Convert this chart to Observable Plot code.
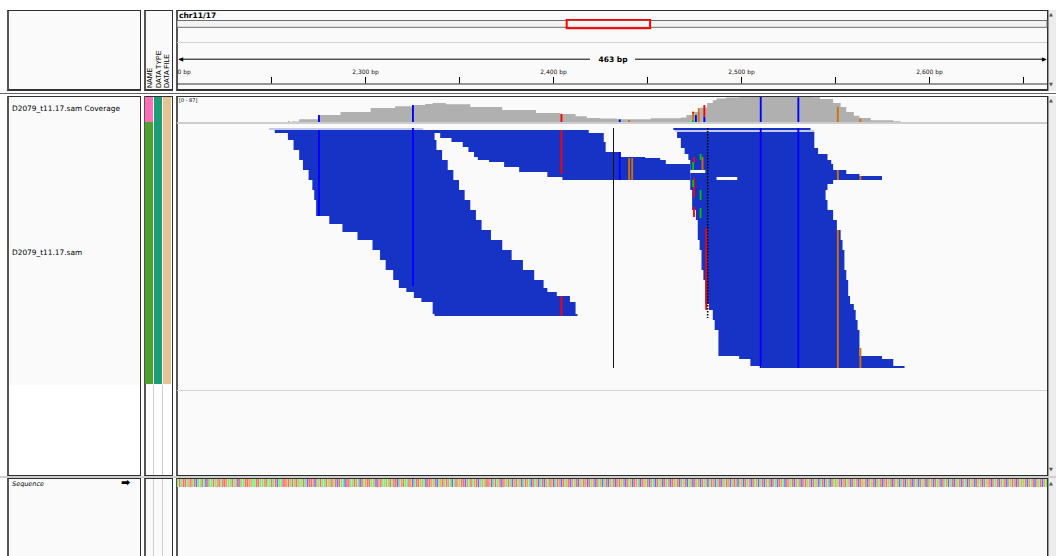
<!DOCTYPE html>
<html><head><meta charset="utf-8">
<script src="https://cdn.jsdelivr.net/npm/d3@7"></script>
<script src="https://cdn.jsdelivr.net/npm/@observablehq/plot@0.6"></script>
<style>
html,body{margin:0;padding:0;background:#fff;}
#root{position:relative;width:1056px;height:556px;overflow:hidden;background:#fff;font-family:"DejaVu Sans",Arial,sans-serif;color:#000;}
.box{position:absolute;box-sizing:border-box;}
.lbl{position:absolute;white-space:nowrap;line-height:1;}
</style></head><body><div id="root"></div>
<script>
// ---------------- data ----------------
const chromName = "chr11/17";
const chromLength = 4800;
const chromViewBox = [2150, 2610];
const viewStart = 2200;
const viewSpanLabel = "463 bp";
const rulerLabelTicks = [2200, 2300, 2400, 2500, 2600];
const rulerMinorTicks = [2250, 2300, 2350, 2400, 2450, 2500, 2550, 2600, 2650];
const trackNames = ["D2079_t11.17.sam Coverage", "D2079_t11.17.sam"];
const attrNames = ["NAME", "DATA TYPE", "DATA FILE"];
const coverageAttrColors = ["#ff6db6", "#1b9e77", "#e5c494"];
const readsAttrColors = ["#4ba22f", "#1b9e77", "#e5c494"];
const coverageRangeLabel = "[0 - 87]";
const coverageMax = 87;
const coveragePos = [2259,2261,2265,2275,2287,2303,2316,2325,2332,2336,2343,2356,2373,2391,2404,2412,2418,2425,2434,2452,2468,2471,2474,2478,2482,2485,2487,2492,2499,2538,2542,2549,2553,2556,2560,2563,2569,2581,2585];
const coverageVal = [0,2,10,24,35,49,55,59,63,66,62,52,42,31,28,20,14,12,10,13,16,24,35,50,66,76,82,85,87,86,80,66,52,35,22,14,6,3,0];
// [position, from, to, base]
const coverageAlleles = [
  [2259,0,2,"G"],[2275,0,24,"C"],[2325,0,59,"C"],[2404,0,28,"T"],[2435,0,9,"C"],[2440,0,7,"G"],
  [2474,0,9,"A"],[2474,9,30,"G"],[2474,30,36,"T"],[2475.5,0,24,"C"],[2477,0,48,"G"],
  [2480,0,18,"C"],[2480,18,59,"T"],[2510,0,87,"C"],[2530,0,86,"C"],[2551,0,53,"G"],[2563,0,12,"G"]
];
// reads as [rowFrom, rowTo, startBp, endBp]
const readsPale = [[0,1,2249,2331],[1,2,2465,2539]];
const readsTop = [[1,2.5,2252,2419],[0,1,2464,2537]];
const readsLeft = [
  [2.5,6,2259,2337],[6,11,2262,2338],[11,16,2265,2341],[16,21,2267,2344],[21,26,2270,2347],
  [26,31,2272,2350],[31,36,2273,2353],[36,41,2274,2356],[41,44,2274,2359],[44,46,2281,2359],
  [46,48,2281,2362],[48,51,2288,2362],[51,52,2288,2367],[52,56,2296,2367],[56,61,2304,2373],
  [61,66,2308,2378],[66,71,2311,2384],[71,76,2315,2390],[76,80,2318,2395],[80,82,2322,2397],
  [82,84,2326,2402],[84,85,2326,2409],[85,87,2330,2409],[87,93,2336,2412],[93,94,2337,2413]
];
const readsMiddle = [
  [2.5,5,2340,2427],[5,7,2346,2427],[7,9.5,2352,2428],[9.5,12,2355,2428],[12,14.5,2358,2436],
  [14.5,15,2360,2449],[15,16,2360,2457],[16,17,2366,2460],[17,18,2374,2460],[18,19.5,2374,2473],
  [19.5,22,2382,2473],[22,24.5,2397,2473],[24.5,26,2405,2473]
];
const readsRight = [
  [2,5,2466,2539],[5,10,2468,2539],[10,13,2470,2541],[13,16,2472,2546],[16,18,2473,2548],
  [18,21,2473,2549],[21,23,2473,2556],[23,24,2473,2563],[24,26,2473,2575],[26,28,2473,2549],
  [28,31,2473,2546],[31,36,2474,2545],[36,41,2474,2546],[41,46,2476,2549],[46,51,2477,2551],
  [51,56,2477,2553],[56,61,2478,2554],[61,66,2479,2555],[66,71,2479,2555],[71,76,2480,2556],
  [76,84,2481,2557],[84,88,2481,2558],[88,91,2483,2560],[91,96,2485,2561],[96,101,2486,2562],
  [101,114,2488,2563],[114,115.5,2499,2575],[115.5,119,2505,2581],[119,120,2511,2587]
];
const readGaps = [[21,22.5,2473,2481],[24.5,26,2487,2498]];
// mismatches [position, rowFrom, rowTo, base]
const mismatches = [
  [2275,1,44,"C"],[2325,0,79,"C"],[2404,1,23,"T"],[2404,84,94,"T"],[2435,12,26,"C"],
  [2440,15,26,"G"],[2441.6,15,26,"G"],[2510,0,120,"C"],[2530,0,120,"C"],
  [2551,21,26,"G"],[2551,51,120,"G"],[2563,24,26,"G"],[2563,110,120,"G"],
  [2474.5,14.5,17.5,"T"],[2474,17,21,"A"],[2479,14.5,21,"G"],[2478,13,16,"A"],
  [2474.5,25,34.5,"T"],[2474,26,29.5,"A"],[2474.5,39.5,44.5,"T"],[2478,31,36,"A"],
  [2478,40,45,"A"],[2481,50,91,"T"]
];
const insertionColumn = [[2482,0,95]];
const sequence =
  "ATATTAGTATCAATACTAATAGTATTGAATAGCTAATTGGAATTAAGTAA" +
  "TATCAATTGTATATGAATACTTGCGATAATAGTATCTAACTTAATGACTA" +
  "GTTAATCGTAAGATATTCAGTAATGCATTAGACTTGATCAGTATGACATG" +
  "ATTCGATAGTCAGATTGCATAGCTGATACGTAGCATGACTAGCATCGATG" +
  "CATGCTAGTCGATCGATGCTAGCTAGCATCGATCGTAGCTAGCTGACTGA" +
  "TCGACTAGCTAGCTGATCGATCAGCTAGCTAGCATGCATCGATGCATGCA" +
  "GCTAGCTAGCATCGATCGACTGACTGATCGATCGTAGCTAGCATCGACTA" +
  "GATCGTAGCTAGCTGATCGATCGATCGTAGCTAGCATCGATCGACTAGCT" +
  "AGCTAGCTAGCATCGATCGACTAGCTAGCTAGTCGATCGATCGATGCTAG" +
  "ATCGATCGATCGA";

// ---------------- styles / layout ----------------
const baseColor = {A: "#00c000", C: "#0000ff", G: "#d17105", T: "#ff0000"};
const seqColor = {A: "#74f274", C: "#6a6aff", G: "#eda15c", T: "#ff6a6a"};
const readFill = "#1633c5", paleFill = "#c3c9ee", panelBg = "#fafafa";
const DATA_LEFT = 177, DATA_W = 871, PX_PER_BP = 1.88;
const viewEnd = viewStart + DATA_W / PX_PER_BP;
const mid = (viewStart + viewEnd) / 2;
const trackExtents = [[0, 25], [25, 287]];

const root = document.getElementById("root");
function box(l, t, w, h, css) {
  const d = document.createElement("div"); d.className = "box";
  Object.assign(d.style, {left: l + "px", top: t + "px", width: w + "px", height: h + "px"}, css || {});
  root.appendChild(d); return d;
}
function label(l, t, txt, css) {
  const d = document.createElement("div"); d.className = "lbl"; d.textContent = txt;
  Object.assign(d.style, {left: l + "px", top: t + "px"}, css || {});
  root.appendChild(d); return d;
}
function place(svg, l, t) {
  svg.style.position = "absolute"; svg.style.left = l + "px"; svg.style.top = t + "px";
  svg.style.background = "transparent"; svg.style.overflow = "hidden";
  root.appendChild(svg);
}
const border = "1px solid #2e2e2e";
const panel = (l, t, w, h, extra) => box(l, t, w, h, Object.assign({background: panelBg, border: border, borderLeft: "2px solid #555"}, extra || {}));

// header row
panel(7, 10, 134, 81, {borderBottom: "2px solid #333"});
panel(144, 10, 29, 81, {borderBottom: "2px solid #333"});
panel(176, 10, 872, 81, {borderBottom: "2px solid #333"});
box(0, 93, 1056, 1, {background: "#666"});
// tracks row
panel(7, 96, 134, 380);
panel(144, 96, 29, 380);
panel(176, 96, 872, 380);
box(9, 385, 131, 90, {background: "#fff"});
box(146, 385, 26, 90, {background: "#fff"});
box(153, 385, 1, 90, {background: "#cfcfcf"});
box(162, 385, 1, 90, {background: "#cfcfcf"});
// splitter + bottom row
box(0, 476, 1056, 2, {background: "#cfcfcf"});
panel(7, 478, 134, 90);
panel(144, 478, 29, 90);
panel(176, 478, 872, 90);
box(153, 479, 1, 77, {background: "#cfcfcf"});
box(162, 479, 1, 77, {background: "#cfcfcf"});
// scrollbars
for (const [t, h] of [[10, 81], [96, 380], [478, 90]]) box(1048, t, 8, h, {background: "#ececec", borderLeft: "1px solid #999"});
label(1049, 12, "▲", {fontSize: "5px", color: "#555"});
label(1049, 82, "▼", {fontSize: "5px", color: "#555"});
label(1049, 98, "▲", {fontSize: "5px", color: "#555"});
label(1049, 467, "▼", {fontSize: "5px", color: "#555"});
label(1049, 481, "▲", {fontSize: "5px", color: "#555"});
// header separator and texts
box(177, 42, 870, 1, {background: "#d2d2d2"});
label(179, 12, chromName, {fontSize: "7.5px", fontWeight: "bold"});
// attribute header labels (rotated)
attrNames.forEach((n, i) => {
  label(146 + i * 8.7, 56, n, {fontSize: "7px", fontFamily: "'Liberation Sans Narrow','Liberation Sans',sans-serif", writingMode: "vertical-rl", transform: "rotate(180deg)", height: "32px", lineHeight: "8px", width: "8px", textAlign: "left"});
});
// track names
label(12, 105, trackNames[0], {fontSize: "7.4px"});
label(12, 249, trackNames[1], {fontSize: "7.4px"});
label(12, 481, "Sequence", {fontSize: "6.5px", fontStyle: "italic"});
label(121, 477, "➡", {fontSize: "11px", fontWeight: "bold"});
label(179, 98, coverageRangeLabel, {fontSize: "5px"});
// track dividers
box(177, 122, 870, 2, {background: "#cdcdcd"});
box(177, 390, 870, 1, {background: "#d4d4d4"});

// ---------------- plots ----------------
const xView = {domain: [viewStart, viewEnd], range: [0, DATA_W], axis: null};

// ideogram
place(Plot.plot({
  width: DATA_W, height: 11, margin: 0,
  x: {domain: [0, chromLength], range: [0, DATA_W - 1], axis: null},
  y: {domain: [0, 11], range: [0, 11], axis: null},
  marks: [
    Plot.rect([[0, chromLength]], {x1: d => d[0], x2: d => d[1], y1: 1.5, y2: 8.3, fill: "#f4f4f4", stroke: "#6e6e6e", strokeWidth: 1}),
    Plot.rect([chromViewBox], {x1: d => d[0], x2: d => d[1], y1: 0.6, y2: 9.2, fill: "none", stroke: "#ff0000", strokeWidth: 2})
  ]
}), DATA_LEFT, 19);

// ruler
const fmtBp = d => d3.format(",")(d) + " bp";
const halfGap = 12;
place(Plot.plot({
  width: DATA_W, height: 38, margin: 0, x: xView,
  y: {domain: [0, 38], range: [0, 38], axis: null},
  style: {fontFamily: "DejaVu Sans"},
  marks: [
    Plot.ruleY([[viewStart + 1, mid - halfGap], [mid + halfGap, viewEnd - 2]], {x1: d => d[0], x2: d => d[1], y: 8.7, stroke: "#000", strokeWidth: 1}),
    Plot.text([viewStart], {x: d => d, y: 8.7, text: () => "◀", textAnchor: "start", fontSize: 6, dx: 1}),
    Plot.text([viewEnd], {x: d => d, y: 8.7, text: () => "▶", textAnchor: "end", fontSize: 6, dx: -2}),
    Plot.text([mid], {x: d => d, y: 8.7, text: () => viewSpanLabel, fontWeight: "bold", fontSize: 7.5}),
    Plot.text(rulerLabelTicks, {x: d => d, y: 22, text: fmtBp, fontSize: 6, fill: "#111"}),
    Plot.ruleX(rulerMinorTicks, {x: d => d, y1: 27, y2: 33.5, stroke: "#000", strokeWidth: 1}),
    Plot.ruleY([33.5], {x1: viewStart, x2: viewEnd, y: d => d, stroke: "#333", strokeWidth: 1})
  ]
}), DATA_LEFT, 50);

// coverage
const covData = coveragePos.map((p, i) => ({pos: p, val: coverageVal[i]}));
place(Plot.plot({
  width: DATA_W, height: 25, margin: 0, x: xView,
  y: {domain: [0, coverageMax], range: [25, 0], axis: null},
  marks: [
    Plot.areaY(covData, {x: "pos", y: "val", curve: "step-after", fill: "#b0b0b0"}),
    Plot.rect(coverageAlleles, {x1: d => d[0], x2: d => d[0] + 1, y1: d => d[1], y2: d => d[2], fill: d => baseColor[d[3]]})
  ]
}), DATA_LEFT, 97);

// alignments
const rectOf = (fill) => ({x1: d => d[2], x2: d => d[3], y1: d => d[0], y2: d => d[1], fill});
place(Plot.plot({
  width: DATA_W, height: 250, margin: 0, x: xView,
  y: {domain: [0, 125], range: [0, 250], axis: null},
  marks: [
    Plot.rect(readsPale, rectOf(paleFill)),
    Plot.rect(readsTop, rectOf(readFill)),
    Plot.rect(readsLeft, rectOf(readFill)),
    Plot.rect(readsMiddle, rectOf(readFill)),
    Plot.rect(readsRight, rectOf(readFill)),
    Plot.rect(readGaps, rectOf(panelBg)),
    Plot.rect(mismatches, {x1: d => d[0], x2: d => d[0] + 1, y1: d => d[1], y2: d => d[2], fill: d => baseColor[d[3]]}),
    Plot.ruleX(insertionColumn, {x: d => d[0], y1: d => d[1], y2: d => d[2], stroke: "#000", strokeWidth: 1.6, strokeDasharray: "1.5,1.5"}),
    Plot.ruleX([mid], {x: d => d, y1: 0, y2: 120, stroke: "#111", strokeWidth: 1, dx: 0.5})
  ]
}), DATA_LEFT, 128);

// sequence
const seqData = Array.from(sequence, (b, i) => ({pos: viewStart + i, base: b}));
place(Plot.plot({
  width: DATA_W, height: 8, margin: 0, x: xView,
  y: {domain: [0, 1], range: [0, 8], axis: null},
  marks: [
    Plot.rect(seqData, {x1: "pos", x2: d => d.pos + 1, y1: 0, y2: 1, fill: d => seqColor[d.base], insetRight: 0.35})
  ]
}), DATA_LEFT, 479);

// attribute cells
const attrCells = [];
attrNames.forEach((n, i) => {
  attrCells.push({attr: n, track: 0, color: coverageAttrColors[i]});
  attrCells.push({attr: n, track: 1, color: readsAttrColors[i]});
});
place(Plot.plot({
  width: 27, height: 288, margin: 0,
  x: {type: "band", domain: attrNames, range: [0, 27], paddingInner: 0.08, paddingOuter: 0, axis: null},
  y: {domain: [0, 288], range: [0, 288], axis: null},
  marks: [
    Plot.barY(attrCells, {x: "attr", y1: d => trackExtents[d.track][0], y2: d => trackExtents[d.track][1], fill: "color"})
  ]
}), 145, 97);
</script></body></html>
